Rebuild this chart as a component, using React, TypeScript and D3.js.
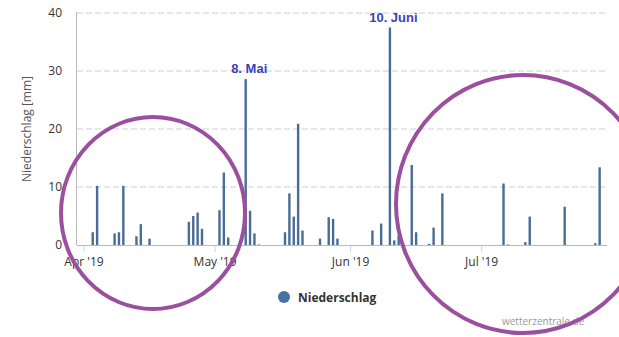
import React from "react";
import * as d3 from "d3";

const dates = [
  "2019-04-03","2019-04-04","2019-04-08","2019-04-09","2019-04-10","2019-04-13","2019-04-14","2019-04-16",
  "2019-04-25","2019-04-26","2019-04-27","2019-04-28","2019-05-02","2019-05-03","2019-05-04",
  "2019-05-08","2019-05-09","2019-05-10","2019-05-11","2019-05-17","2019-05-18","2019-05-19","2019-05-20","2019-05-21",
  "2019-05-25","2019-05-27","2019-05-28","2019-05-29","2019-06-06","2019-06-08","2019-06-10","2019-06-11","2019-06-12",
  "2019-06-15","2019-06-16","2019-06-19","2019-06-20","2019-06-22","2019-07-06","2019-07-07","2019-07-11","2019-07-12",
  "2019-07-20","2019-07-27","2019-07-28",
];
const values = [
  2.2, 10.2, 2.0, 2.2, 10.2, 1.5, 3.6, 1.1,
  4.0, 5.0, 5.6, 2.8, 6.0, 12.5, 1.3,
  28.6, 5.9, 2.0, 0.1, 2.2, 8.9, 4.9, 20.9, 2.5,
  1.1, 4.8, 4.5, 1.1, 2.5, 3.7, 37.5, 0.8, 1.7,
  13.8, 2.2, 0.2, 3.0, 8.9, 10.6, 0.1, 0.5, 4.9,
  6.6, 0.3, 13.4,
];
const yTicks = [0, 10, 20, 30, 40];
const monthTicks = ["2019-04-01", "2019-05-01", "2019-06-01", "2019-07-01"];
const monthLabels = ["Apr '19", "May '19", "Jun '19", "Jul '19"];
const annotations = [
  { date: "2019-05-08", label: "8. Mai" },
  { date: "2019-06-10", label: "10. Juni" },
];
const seriesName = "Niederschlag";

const parse = (s: string) => new Date(s + "T00:00:00Z");

export default function App() {
  const W = 619, H = 337;
  const left = 77, right = 607, top = 13, bottom = 245;
  const dayPx = 4.37;
  const apr1 = parse("2019-04-01").getTime();
  const ms = 86400000;
  const x = d3
    .scaleUtc()
    .domain([new Date(apr1 - ((84 - left) / dayPx) * ms), new Date(apr1 + ((right - 84) / dayPx) * ms)])
    .range([left, right]);
  const y = d3.scaleLinear().domain([0, 40]).range([bottom, top]);
  const font = "'Open Sans', 'DejaVu Sans', sans-serif";
  const bw = 2.4;

  return (
    <svg width={W} height={H} style={{ position: "absolute", left: 0, top: 0, background: "#fff" }}>
      <rect width={W} height={H} fill="#fff" />
      {yTicks.map((t) =>
        t === 0 ? null : (
          <line key={t} x1={left} x2={right} y1={y(t)} y2={y(t)} stroke="#cfcfcf" strokeDasharray="6,3" />
        )
      )}
      <line x1={left - 0.5} x2={left - 0.5} y1={top - 1} y2={bottom} stroke="#b8b8b8" />
      <line x1={left} x2={right} y1={bottom + 0.5} y2={bottom + 0.5} stroke="#b0bccb" />
      {monthTicks.map((m, i) => (
        <g key={m}>
          <line x1={x(parse(m))} x2={x(parse(m))} y1={bottom + 1} y2={bottom + 7} stroke="#ccd6eb" />
          <text x={x(parse(m))} y={266} textAnchor="middle" fontFamily={font} fontSize={12} fill="#333">
            {monthLabels[i]}
          </text>
        </g>
      ))}
      {yTicks.map((t) => (
        <text key={t} x={62} y={y(t) + 4} textAnchor="end" fontFamily={font} fontSize={12} fill="#333">
          {t}
        </text>
      ))}
      <text
        transform={`translate(31,129) rotate(-90)`}
        textAnchor="middle"
        fontFamily={font}
        fontSize={12}
        fill="#555"
      >
        Niederschlag [mm]
      </text>
      {dates.map((d, i) => (
        <rect
          key={d}
          x={x(parse(d)) - bw / 2}
          y={y(values[i])}
          width={bw}
          height={bottom - y(values[i])}
          fill="#4a6d96"
        />
      ))}
      {annotations.map((a) => {
        const v = values[dates.indexOf(a.date)];
        return (
          <text
            key={a.date}
            x={x(parse(a.date)) + 3.5}
            y={y(v) - 6}
            textAnchor="middle"
            fontFamily="'Liberation Sans', Arial, sans-serif"
            fontWeight="bold"
            fontSize={13}
            fill="#3b3fb8"
          >
            {a.label}
          </text>
        );
      })}
      <circle cx={284} cy={297} r={6} fill="#4572a7" />
      <text x={298} y={302} fontFamily={font} fontWeight="bold" fontSize={12} fill="#333">
        {seriesName}
      </text>
      <text x={502} y={325} fontFamily={font} fontSize={10} fill="#999">
        wetterzentrale.de
      </text>
      <ellipse cx={153} cy={213} rx={92} ry={96} fill="none" stroke="#9b4f9f" strokeWidth={4} />
      <ellipse cx={523} cy={204} rx={127} ry={129} fill="none" stroke="#9b4f9f" strokeWidth={4} />
    </svg>
  );
}
